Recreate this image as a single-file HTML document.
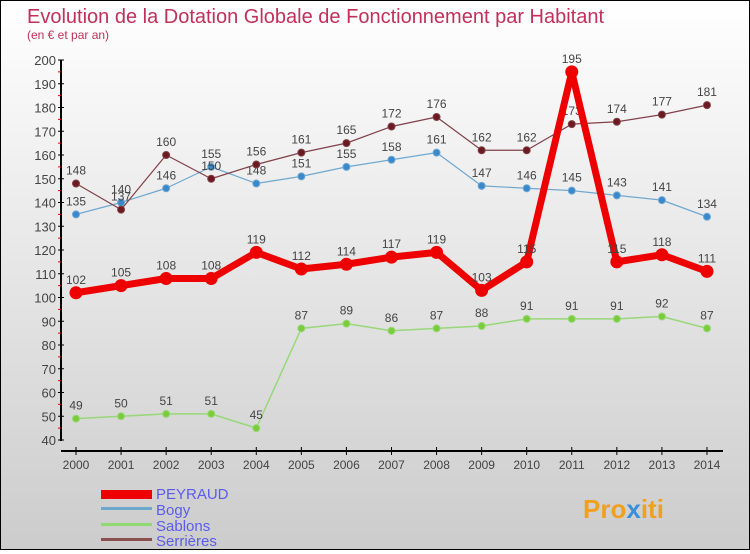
<!DOCTYPE html>
<html><head><meta charset="utf-8"><style>
body{margin:0;width:750px;height:550px;overflow:hidden}
#c{position:absolute;left:0;top:0;width:748px;height:548px;border:1px solid #000;background:linear-gradient(#fff,#ccc)}
text{font-family:"Liberation Sans",sans-serif}
</style></head><body>
<div id="c">
<svg id="s" width="748" height="548">
<text x="26" y="22" font-size="20" fill="#c0305a">Evolution de la Dotation Globale de Fonctionnement par Habitant</text>
<text x="26" y="38" font-size="12" fill="#c0305a">(en € et par an)</text>
<g id="ax"></g><g id="ser"></g>
<g>
<rect x="100" y="489" width="51" height="9" fill="#e00"/>
<text x="155" y="498" font-size="15" fill="#5b5bee">PEYRAUD</text>
<rect x="100" y="506" width="51" height="3" fill="#6fa6cc"/>
<text x="155" y="514" font-size="15" fill="#5b5bee">Bogy</text>
<rect x="100" y="522" width="51" height="3" fill="#90d870"/>
<text x="155" y="530" font-size="15" fill="#5b5bee">Sablons</text>
<rect x="100" y="537" width="51" height="3" fill="#8a5050"/>
<text x="155" y="545" font-size="15" fill="#5b5bee">Serrières</text>
</g>
<text x="582" y="517" font-size="26" font-weight="bold"><tspan fill="#f0a020">Pro</tspan><tspan fill="#3a8fdc">x</tspan><tspan fill="#f0a020">iti</tspan></text>
</svg></div>
<script>
const years=[2000,2001,2002,2003,2004,2005,2006,2007,2008,2009,2010,2011,2012,2013,2014];
const peyraud=[102,105,108,108,119,112,114,117,119,103,115,195,115,118,111];
const bogy=[135,140,146,155,148,151,155,158,161,147,146,145,143,141,134];
const sablons=[49,50,51,51,45,87,89,86,87,88,91,91,91,92,87];
const serrieres=[148,137,160,150,156,161,165,172,176,162,162,173,174,177,181];
const yTicks=[40,50,60,70,80,90,100,110,120,130,140,150,160,170,180,190,200];
const NS="http://www.w3.org/2000/svg";
const X=i=>75+i*45.07, Y=v=>59+(200-v)*2.375;
function mk(p,t,a){const e=document.createElementNS(NS,t);for(const k in a)e.setAttribute(k,a[k]);p.appendChild(e);return e;}
const ax=document.getElementById('ax'),ser=document.getElementById('ser');
let l=mk(ax,'line',{x1:60,y1:59,x2:60,y2:440,stroke:'#000','stroke-width':2});


l=mk(ax,'line',{x1:60,y1:450,x2:722,y2:450,stroke:'#000','stroke-width':2});


yTicks.forEach(v=>{
 mk(ax,'line',{x1:57,x2:63,y1:Y(v),y2:Y(v),stroke:'#000'});
 if(v<200){mk(ax,'line',{x1:57,x2:60,y1:Y(v+5),y2:Y(v+5),stroke:'#e00'});}
 const t=mk(ax,'text',{x:55,y:Y(v)+5,'font-size':13,'text-anchor':'end',fill:'#444'});t.textContent=v;
 
 
});
years.forEach((y,i)=>{
 mk(ax,'line',{x1:X(i),x2:X(i),y1:446,y2:454,stroke:'#000'});
 const t=mk(ax,'text',{x:X(i),y:468,'font-size':12,'text-anchor':'middle',fill:'#444'});t.textContent=y;
 
 
});
function draw(d,name,col,dot,w,r){
 const g=mk(ser,'g',{});
 
 
 mk(g,'polyline',{points:d.map((v,i)=>X(i)+','+Y(v)).join(' '),fill:'none',stroke:col,'stroke-width':w,'stroke-linejoin':'round'});
 d.forEach((v,i)=>{
  const c=mk(g,'circle',{cx:X(i),cy:Y(v),r:r,fill:dot,stroke:col,'stroke-width':1});
  
  
  const t=mk(g,'text',{x:X(i),y:Y(v)-9,'font-size':12,'text-anchor':'middle',fill:'#444'});t.textContent=v;
  
  
 });
}
draw(sablons,'sablons','#98d878','#7acc3c',1.5,3.5);
draw(bogy,'bogy','#70a8d0','#3a88cc',1.2,3.5);
draw(serrieres,'serrieres','#804048','#6a1a20',1.2,3.5);
draw(peyraud,'peyraud','#ee0000','#ee0000',7,6);
</script>
</body></html>
